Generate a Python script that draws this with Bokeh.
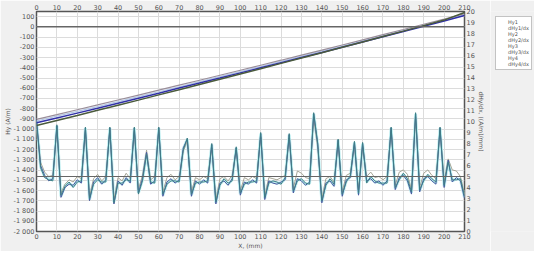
from bokeh.plotting import figure
from bokeh.layouts import row
from bokeh.models import (Range1d, LinearAxis, FixedTicker, Span, Legend, LegendItem)
from bokeh.embed import file_html
from bokeh.resources import INLINE

# ---------------- data ----------------
x_h = [0, 10, 20, 30, 40, 50, 60, 70, 80, 90, 100, 110, 120, 130, 140, 150, 160, 170, 180, 190, 200, 210]
hy1 = [-937, -890, -843, -795, -746, -697, -648, -598, -549, -500, -450, -400, -350, -300, -250, -199, -148, -97, -46, 5, 57, 110]
hy2 = [-905, -858, -810, -763, -715, -667, -619, -570, -522, -473, -424, -375, -326, -276, -227, -177, -127, -76, -26, 25, 76, 128]
hy3 = [-965, -915, -866, -816, -766, -716, -665, -614, -563, -512, -460, -409, -357, -305, -253, -200, -148, -95, -42, 12, 66, 140]
hy4 = [-920, -873, -826, -779, -731, -682, -634, -585, -536, -487, -437, -388, -338, -288, -238, -188, -137, -86, -36, 15, 67, 120]

x_d = list(range(0, 211, 2))
dhy1 = [10.2, 6.0, 5.1, 4.6, 4.8, 9.6, 3.1, 4.0, 4.3, 4.2, 4.7, 4.4, 9.4, 2.8, 4.5, 4.9, 4.3, 4.7, 9.4, 2.5,
        4.6, 4.2, 4.9, 4.4, 9.4, 3.5, 4.8, 7.2, 4.3, 4.6, 9.4, 3.2, 4.5, 4.8, 4.4, 4.7, 7.6, 8.4, 3.2, 4.6,
        4.3, 4.7, 4.4, 7.9, 2.5, 4.4, 4.6, 4.2, 4.8, 7.6, 3.3, 4.5, 4.3, 4.7, 4.4, 8.9, 2.9, 4.6, 4.4, 4.3,
        4.5, 4.7, 8.8, 3.5, 4.8, 4.6, 4.2, 4.5, 10.7, 7.9, 2.6, 4.4, 4.6, 4.1, 8.3, 3.2, 4.7, 4.9, 8.1, 3.3,
        8.0, 4.6, 4.8, 4.4, 4.6, 4.2, 4.6, 9.4, 3.8, 4.9, 5.1, 4.6, 3.4, 10.7, 3.6, 4.8, 5.0, 4.6, 4.3, 9.4,
        4.0, 6.5, 4.5, 4.9, 4.6, 3.0]
dhy2 = [9.8, 6.3, 5.4, 5.0, 5.1, 9.3, 3.5, 4.3, 4.7, 4.5, 5.0, 4.8, 9.1, 3.2, 4.8, 5.2, 4.6, 5.0, 9.2, 2.9,
        4.9, 4.6, 5.3, 4.8, 9.1, 3.8, 5.1, 7.4, 4.7, 5.0, 9.2, 3.6, 4.9, 5.2, 4.7, 5.0, 7.3, 8.2, 3.6, 4.9,
        4.7, 5.0, 4.8, 7.6, 2.9, 4.8, 5.0, 4.6, 5.1, 7.4, 3.7, 4.9, 4.7, 5.0, 4.8, 8.6, 3.3, 4.9, 4.8, 4.7,
        4.9, 5.1, 8.5, 3.9, 5.5, 5.3, 4.9, 4.8, 10.3, 7.6, 3.0, 4.8, 5.0, 4.5, 8.0, 3.6, 5.1, 5.3, 7.8, 3.7,
        7.7, 5.0, 5.4, 4.9, 5.0, 4.7, 5.0, 9.1, 4.2, 5.4, 5.6, 5.2, 3.8, 10.4, 4.0, 5.3, 5.6, 5.1, 4.8, 9.1,
        4.6, 6.6, 5.6, 5.5, 5.0, 3.4]
dhy3 = [10.0, 5.8, 4.9, 4.7, 4.6, 9.7, 3.3, 4.1, 4.5, 4.0, 4.5, 4.6, 9.5, 3.0, 4.3, 4.7, 4.5, 4.5, 9.5, 2.6,
        4.4, 4.4, 4.7, 4.6, 9.5, 3.4, 4.6, 7.0, 4.5, 4.4, 9.5, 3.4, 4.3, 4.6, 4.6, 4.5, 7.4, 8.5, 3.4, 4.4,
        4.5, 4.5, 4.6, 8.0, 2.7, 4.2, 4.8, 4.4, 4.6, 7.7, 3.5, 4.3, 4.5, 4.5, 4.6, 9.0, 3.1, 4.4, 4.6, 4.5,
        4.3, 4.9, 8.9, 3.7, 4.6, 4.8, 4.4, 4.3, 10.8, 8.0, 2.8, 4.2, 4.8, 4.3, 8.4, 3.4, 4.5, 5.1, 8.2, 3.5,
        8.1, 4.4, 5.0, 4.6, 4.4, 4.4, 4.4, 9.5, 4.0, 4.7, 5.3, 4.8, 3.6, 10.8, 3.8, 4.6, 5.2, 4.8, 4.5, 9.5,
        4.2, 6.3, 4.7, 4.7, 4.8, 3.2]
dhy4 = [10.1, 5.9, 5.0, 4.8, 4.7, 9.6, 3.2, 4.2, 4.4, 4.1, 4.6, 4.5, 9.4, 2.9, 4.4, 4.8, 4.4, 4.6, 9.4, 2.7,
        4.5, 4.3, 4.8, 4.5, 9.4, 3.5, 4.7, 7.1, 4.4, 4.5, 9.4, 3.3, 4.4, 4.7, 4.5, 4.6, 7.5, 8.4, 3.3, 4.5,
        4.4, 4.6, 4.5, 7.9, 2.6, 4.3, 4.7, 4.3, 4.7, 7.6, 3.4, 4.4, 4.4, 4.6, 4.5, 8.9, 3.0, 4.5, 4.5, 4.4,
        4.4, 4.8, 8.8, 3.6, 4.7, 4.7, 4.3, 4.4, 10.7, 7.9, 2.7, 4.3, 4.7, 4.2, 8.3, 3.3, 4.6, 5.0, 8.1, 3.4,
        8.0, 4.5, 4.9, 4.5, 4.5, 4.3, 4.5, 9.4, 3.9, 4.8, 5.2, 4.7, 3.5, 10.7, 3.7, 4.7, 5.1, 4.7, 4.4, 9.4,
        4.1, 6.4, 4.6, 4.8, 4.7, 3.1]

series_names = ["Hy1", "dHy1/dx", "Hy2", "dHy2/dx", "Hy3", "dHy3/dx", "Hy4", "dHy4/dx"]
x_ticks = list(range(0, 211, 10))
left_ticks = list(range(-2000, 101, 100))
left_labels = {t: (f"{t:,}".replace(",", " ")) for t in left_ticks}
right_ticks = list(range(0, 21))

# ---------------- styles ----------------
FONT = "DejaVu Sans"
BG = "#f0f0f0"
styles = {
    "Hy1": dict(line_color="#3030a8", line_width=1.5),
    "dHy1/dx": dict(line_color="#4a5aa0", line_width=1),
    "Hy2": dict(line_color="#9a8e9a", line_width=1.2),
    "dHy2/dx": dict(line_color="#a5a596", line_width=1),
    "Hy3": dict(line_color="#4a5a3c", line_width=1.5),
    "dHy3/dx": dict(line_color="#3f7f86", line_width=1),
    "Hy4": dict(line_color="#b4c8e6", line_width=1.2),
    "dHy4/dx": dict(line_color="#b8ecf0", line_width=3),
}

# ---------------- main figure ----------------
fig = figure(width=490, height=251, output_backend="svg", toolbar_location=None,
             x_range=Range1d(0, 210), y_range=Range1d(-2000, 150),
             min_border_left=34, min_border_right=26, min_border_top=11, min_border_bottom=17)
fig.extra_y_ranges = {"d": Range1d(0, 20)}
fig.border_fill_color = BG
fig.background_fill_color = "white"
fig.outline_line_color = "#555555"
fig.outline_line_width = 1.5

def style_axis(ax):
    ax.major_label_text_font = FONT
    ax.major_label_text_font_size = "6.5px"
    ax.major_label_text_color = "#555555"
    ax.axis_line_color = None
    ax.major_tick_line_color = None
    ax.minor_tick_line_color = None
    ax.major_tick_out = 0
    ax.major_tick_in = 0
    ax.minor_tick_out = 0
    ax.minor_tick_in = 0
    ax.major_label_standoff = 2
    ax.axis_label_text_font = FONT
    ax.axis_label_text_font_size = "6px"
    ax.axis_label_text_font_style = "normal"
    ax.axis_label_text_color = "#555555"
    ax.axis_label_standoff = 0

fig.xaxis.ticker = FixedTicker(ticks=x_ticks)
fig.xaxis.axis_label = "X, (mm)"
fig.yaxis.ticker = FixedTicker(ticks=left_ticks)
fig.yaxis.major_label_overrides = left_labels
fig.yaxis.axis_label = "Hy (A/m)"
style_axis(fig.xaxis[0])
style_axis(fig.yaxis[0])

top_ax = LinearAxis(ticker=FixedTicker(ticks=x_ticks))
style_axis(top_ax)
fig.add_layout(top_ax, "above")

right_ax = LinearAxis(y_range_name="d", ticker=FixedTicker(ticks=right_ticks),
                      axis_label="dHy/dx, ((A/m)/mm)")
style_axis(right_ax)
fig.add_layout(right_ax, "right")

fig.xgrid.ticker = FixedTicker(ticks=x_ticks)
fig.ygrid.ticker = FixedTicker(ticks=left_ticks)
fig.grid.grid_line_color = "#dcdcdc"
fig.grid.grid_line_width = 1

fig.add_layout(Span(location=0, dimension="width", line_color="#666666", line_width=1.5))
fig.add_layout(Span(location=5, dimension="width", y_range_name="d", line_color="#666666", line_width=1.2))

# derivative traces (right axis)
fig.line(x_d, dhy4, y_range_name="d", line_alpha=0.9, **styles["dHy4/dx"])
fig.line(x_d, dhy2, y_range_name="d", **styles["dHy2/dx"])
fig.line(x_d, dhy1, y_range_name="d", **styles["dHy1/dx"])
fig.line(x_d, dhy3, y_range_name="d", **styles["dHy3/dx"])
# field traces (left axis)
fig.line(x_h, hy4, **styles["Hy4"])
fig.line(x_h, hy2, **styles["Hy2"])
fig.line(x_h, hy1, **styles["Hy1"])
fig.line(x_h, hy3, **styles["Hy3"])

# ---------------- legend panel ----------------
lg = figure(width=44, height=251, output_backend="svg", toolbar_location=None,
            x_range=Range1d(0, 1), y_range=Range1d(0, 1),
            min_border_left=0, min_border_right=0, min_border_top=8, min_border_bottom=0)
lg.axis.visible = False
lg.grid.visible = False
lg.outline_line_color = None
lg.background_fill_color = BG
lg.border_fill_color = BG

items = []
for name in series_names:
    r = lg.line([], [], **styles[name])
    items.append(LegendItem(label=name, renderers=[r]))

legend = Legend(items=items, location="top_left")
legend.label_text_font = FONT
legend.label_text_font_size = "5px"
legend.label_text_color = "#555555"
legend.label_height = 6
legend.glyph_height = 6
legend.glyph_width = 8
legend.spacing = 0
legend.padding = 2
legend.margin = 5
legend.label_standoff = 2
legend.border_line_color = "#888888"
legend.border_line_width = 1
legend.background_fill_color = "white"
legend.background_fill_alpha = 1
lg.add_layout(legend, "center")

p = row(fig, lg, spacing=0)

open("out.html", "w").write(file_html(p, INLINE))
